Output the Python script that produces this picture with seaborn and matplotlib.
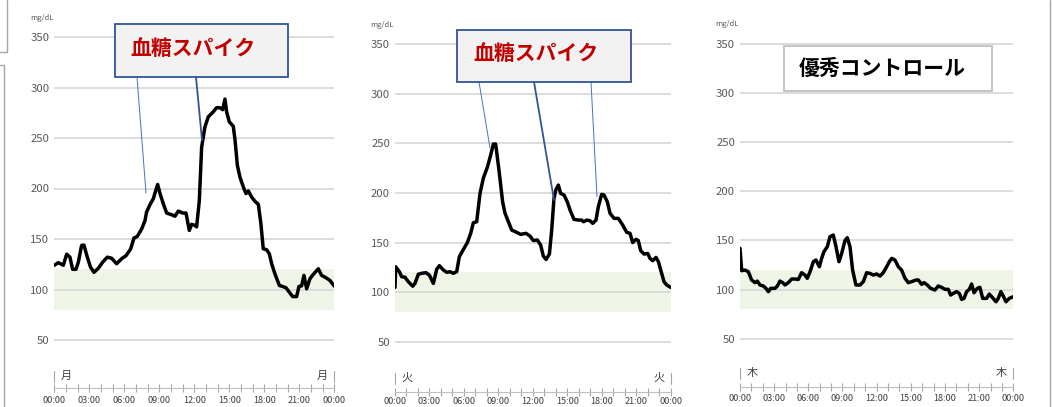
import matplotlib
matplotlib.use("Agg")
import matplotlib.pyplot as plt
import seaborn as sns
from matplotlib.lines import Line2D
from matplotlib.patches import Rectangle
from matplotlib.ticker import MultipleLocator, FuncFormatter

sns.set_theme(style="white")
plt.rcParams["font.family"] = ["Noto Sans CJK JP", "DejaVu Sans"]

# --- data ---
mon_hours = [0.0, 0.34, 0.77, 1.06, 1.34, 1.57, 1.86, 2.06, 2.34, 2.54,
             2.83, 3.11, 3.40, 3.77, 4.14, 4.54, 4.91, 5.34, 5.77, 6.14,
             6.54, 6.83, 7.11, 7.49, 7.77, 7.91, 8.20, 8.49, 8.63, 8.86,
             9.06, 9.34, 9.63, 10.06, 10.34, 10.63, 11.00, 11.29, 11.57, 11.77,
             12.06, 12.20, 12.43, 12.63, 12.91, 13.20, 13.63, 13.91, 14.20, 14.43,
             14.63, 14.77, 15.00, 15.34, 15.49, 15.69, 15.91, 16.20, 16.43, 16.63,
             16.91, 17.20, 17.49, 17.71, 17.91, 18.20, 18.43, 18.63, 18.91, 19.29,
             19.57, 19.86, 20.14, 20.43, 20.77, 20.97, 21.20, 21.40, 21.63, 21.91,
             22.20, 22.63, 22.91, 23.29, 23.63, 24.00]
mon_glucose = [124, 126.6, 124, 135, 132, 120, 120, 127, 143.6, 144,
               132, 122, 117, 121, 127, 132, 131, 125.5, 130.5, 133.4,
               140, 151, 152.5, 160, 168, 176.7, 184, 190, 195.6, 204,
               195, 185, 175.7, 174, 172.5, 177.7, 175.7, 175.7, 158.5, 164.5,
               163.5, 162, 188, 241, 261, 271, 276, 280, 280, 278,
               288.5, 276, 266, 261.7, 248, 223, 211.4, 201.5, 195, 197.6,
               191.6, 187.3, 184.3, 165, 140.3, 139.4, 135.4, 125.5, 115.5, 104,
               103, 101.7, 97.4, 93, 93, 103, 103.6, 114, 100.7, 110.6,
               115, 120.5, 114, 111.6, 109, 103.3]

tue_hours = [0.0, 0.06, 0.38, 0.58, 0.87, 1.16, 1.54, 1.74, 2.03, 2.32,
             2.70, 2.99, 3.34, 3.63, 3.86, 4.21, 4.50, 4.79, 5.08, 5.37,
             5.60, 5.95, 6.30, 6.59, 6.82, 7.11, 7.40, 7.69, 8.04, 8.33,
             8.56, 8.76, 9.05, 9.37, 9.58, 9.87, 10.16, 10.59, 10.94, 11.40,
             11.75, 12.04, 12.39, 12.68, 12.91, 13.15, 13.44, 13.64, 13.84, 14.02,
             14.22, 14.42, 14.71, 15.00, 15.24, 15.58, 15.96, 16.25, 16.40, 16.69,
             16.98, 17.21, 17.50, 17.70, 17.99, 18.19, 18.48, 18.72, 19.07, 19.44,
             19.82, 20.17, 20.46, 20.69, 20.98, 21.18, 21.39, 21.68, 22.00, 22.20,
             22.43, 22.72, 22.93, 23.13, 23.42, 23.65, 24.00]
tue_glucose = [104.8, 125.6, 120.6, 115.6, 115, 110.5, 106, 108.8, 118, 119,
               119.6, 117.2, 108.8, 123, 126.7, 122.3, 120, 120.6, 119, 120.6,
               135.7, 143, 150, 159.3, 170, 171, 199.6, 215, 226, 238.3,
               249.4, 249.4, 223.2, 191, 179.5, 171, 162.6, 160.3, 158.3, 159.3,
               156.6, 152, 152.6, 147.5, 136.4, 133, 138.4, 162.6, 194.6, 203.7,
               208, 199.6, 198, 191, 182.8, 173.4, 172.7, 172.7, 171, 172.7,
               172, 169.4, 172.7, 186.2, 198.6, 198, 191.2, 179.5, 174.4, 174.4,
               167.7, 160.3, 159.3, 150, 153.3, 152, 141.8, 138.4, 139, 134,
               131.7, 135, 130.7, 122.3, 110.5, 107.2, 104.8]

thu_hours = [0.0, 0.15, 0.44, 0.73, 1.02, 1.32, 1.52, 1.76, 2.05, 2.28,
             2.49, 2.69, 3.07, 3.28, 3.51, 3.75, 3.95, 4.24, 4.54, 4.83,
             5.12, 5.41, 5.71, 5.91, 6.15, 6.44, 6.67, 6.97, 7.17, 7.37,
             7.67, 7.90, 8.19, 8.43, 8.69, 8.93, 9.22, 9.42, 9.66, 9.89,
             10.18, 10.54, 10.83, 11.12, 11.41, 11.71, 12.00, 12.29, 12.58, 12.88,
             13.11, 13.32, 13.61, 13.90, 14.19, 14.49, 14.78, 15.07, 15.45, 15.66,
             15.95, 16.16, 16.45, 16.74, 17.12, 17.41, 17.71, 18.00, 18.29, 18.50,
             18.73, 19.02, 19.26, 19.46, 19.67, 19.90, 20.14, 20.34, 20.55, 20.84,
             21.07, 21.31, 21.66, 21.89, 22.18, 22.48, 22.68, 22.91, 23.12, 23.35,
             23.65, 24.00]
thu_glucose = [141.9, 119.2, 119.8, 118.1, 109.7, 107, 108.6, 104.6, 103.6, 101.2,
               97.8, 101.2, 101.2, 103.6, 108.6, 107, 104.6, 107, 110.7, 110.7,
               110.3, 117.1, 114.7, 111.4, 118.1, 128.3, 130, 123.2, 131.7, 138.5,
               143.6, 153.7, 155.4, 143.6, 128.3, 136.8, 149.7, 152.7, 143.6, 119.8,
               104.6, 104.6, 108, 117.1, 116.4, 114.7, 115.8, 113.7, 117.1, 123.2,
               128.3, 131.7, 130, 123.2, 119.8, 111.4, 107, 108, 109.7, 109.7,
               105.3, 107, 104.6, 101.2, 99.5, 103.6, 102.2, 100.2, 100.2, 94.4,
               96.1, 97.8, 96.1, 90, 91, 97.8, 100.2, 105.6, 96.8, 101.2,
               102.2, 91, 91, 95.4, 91.7, 87.6, 91, 97.8, 93.4, 87.6,
               91, 92.7]

days = ["月", "火", "木"]
y_ticks = [50, 100, 150, 200, 250, 300, 350]
target_low, target_high = 80, 120
spike_label = "血糖スパイク"
good_label = "優秀コントロール"

W, H = 1052, 407
fig = plt.figure(figsize=(W / 100, H / 100), dpi=100)
fig.patch.set_facecolor("white")

GRID = "#d9d9d9"
BAND = "#eef5e6"
GRAY_TXT = "#595959"


def draw_panel(geom, hours, values, day, note, label_pad):
    left, right, y350, y50, yaxis, yday = geom
    scale = (y50 - y350) / 300
    ymin = 50 - (yaxis - y50) / scale
    top_px = y350 - 10 * scale
    ax = fig.add_axes([left / W, 1 - yaxis / H, (right - left) / W, (yaxis - top_px) / H])
    ax.set_xlim(0, 24)
    ax.set_ylim(ymin, 360)
    ax.set_facecolor("none")

    def to_data(px, py):
        return (px - left) / (right - left) * 24, 350 - (py - y350) / scale

    ax.axhspan(target_low, target_high, color=BAND, lw=0, zorder=0)
    for v in y_ticks:
        ax.axhline(v, color=GRID, lw=1.3, zorder=1)

    sns.lineplot(x=hours, y=values, ax=ax, color="black", linewidth=2.5,
                 sort=False, estimator=None, zorder=3)

    ax.set_yticks(y_ticks)
    ax.tick_params(axis="y", length=0, pad=3.6, labelsize=8.2, labelcolor=GRAY_TXT)
    ax.xaxis.set_major_locator(MultipleLocator(3))
    ax.xaxis.set_minor_locator(MultipleLocator(1))
    ax.xaxis.set_major_formatter(FuncFormatter(lambda h, p: f"{int(round(h)) % 24:02d}:00"))
    ax.tick_params(axis="x", which="both", direction="inout", length=6, width=0.8,
                   color="#a6a6a6", bottom=True)
    ax.tick_params(axis="x", which="major", labelsize=6.6, labelcolor="#404040",
                   pad=label_pad)
    for s in ["top", "left", "right"]:
        ax.spines[s].set_visible(False)
    ax.spines["bottom"].set_color("#bfbfbf")
    ax.spines["bottom"].set_linewidth(0.8)
    ax.set_xlabel("")
    ax.set_ylabel("")

    # unit label
    ax.text(*to_data(left - 1, y350 - 19.5), "mg/dL", ha="right", va="center",
            fontsize=5.5, color=GRAY_TXT, clip_on=False)

    # day markers
    for px, bx in [(left + 12, left), (right - 12, right)]:
        ax.text(*to_data(px, yday), day, ha="center", va="center", fontsize=8,
                color="#404040", clip_on=False)
        xb, yb0 = to_data(bx, yday - 5)
        _, yb1 = to_data(bx, yday + 6)
        ax.plot([xb, xb], [yb0, yb1], color="#a6a6a6", lw=0.8, clip_on=False)

    # callout box
    (bx0, by0, bx1, by1), face, edge, (tx, ty), text, tcolor, lines = note
    x0, y0 = to_data(bx0, by1)
    x1, y1 = to_data(bx1, by0)
    ax.add_patch(Rectangle((x0, y0), x1 - x0, y1 - y0, facecolor=face, edgecolor=edge,
                           lw=1.3, clip_on=False, zorder=6))
    ax.text(*to_data(tx, ty), text, ha="left", va="center", fontsize=15,
            fontweight="bold", color=tcolor, clip_on=False, zorder=7)
    for (p0, p1, thick) in lines:
        xa, ya = to_data(*p0)
        xb2, yb2 = to_data(*p1)
        ax.plot([xa, xb2], [ya, yb2], color="#2f5597" if thick else "#4472c4",
                lw=1.3 if thick else 0.7, clip_on=False, zorder=5)
    return ax


panels = [
    ((54.3, 334.3, 37, 340, 388, 376), mon_hours, mon_glucose, days[0],
     ((115, 24, 288, 77), "#f2f2f2", "#2f5597", (130, 48.5), spike_label, "#c00000",
      [((137, 77), (146, 193), False), ((196, 77), (202, 140), True)]), 2.6),
    ((395, 670.7, 44.3, 341.7, 391.7, 378), tue_hours, tue_glucose, days[1],
     ((457, 30, 631, 82), "#f2f2f2", "#2f5597", (473, 54), spike_label, "#c00000",
      [((479, 82), (490, 148), False), ((534, 82), (554, 200), True),
       ((591, 82), (597, 197), False)]), 1.0),
    ((740, 1013.3, 43.7, 338.7, 386.7, 373), thu_hours, thu_glucose, days[2],
     ((784, 46, 992, 91), "white", "#bfbfbf", (799, 68), good_label, "black", []), 2.0),
]

for geom, hrs, vals, day, note, pad in panels:
    draw_panel(geom, hrs, vals, day, note, pad)

# fragments of neighbouring page frames
frame_color = "#a6a6a6"
for xs, ys in [([7, 7, 0], [0, 52, 52]), ([0, 3.5, 3.5], [65, 65, 407]), ([1050, 1050], [0, 407])]:
    fig.add_artist(Line2D([x / W for x in xs], [1 - y / H for y in ys],
                          transform=fig.transFigure, color=frame_color, lw=1.0))

fig.savefig("out.png", dpi=100)
